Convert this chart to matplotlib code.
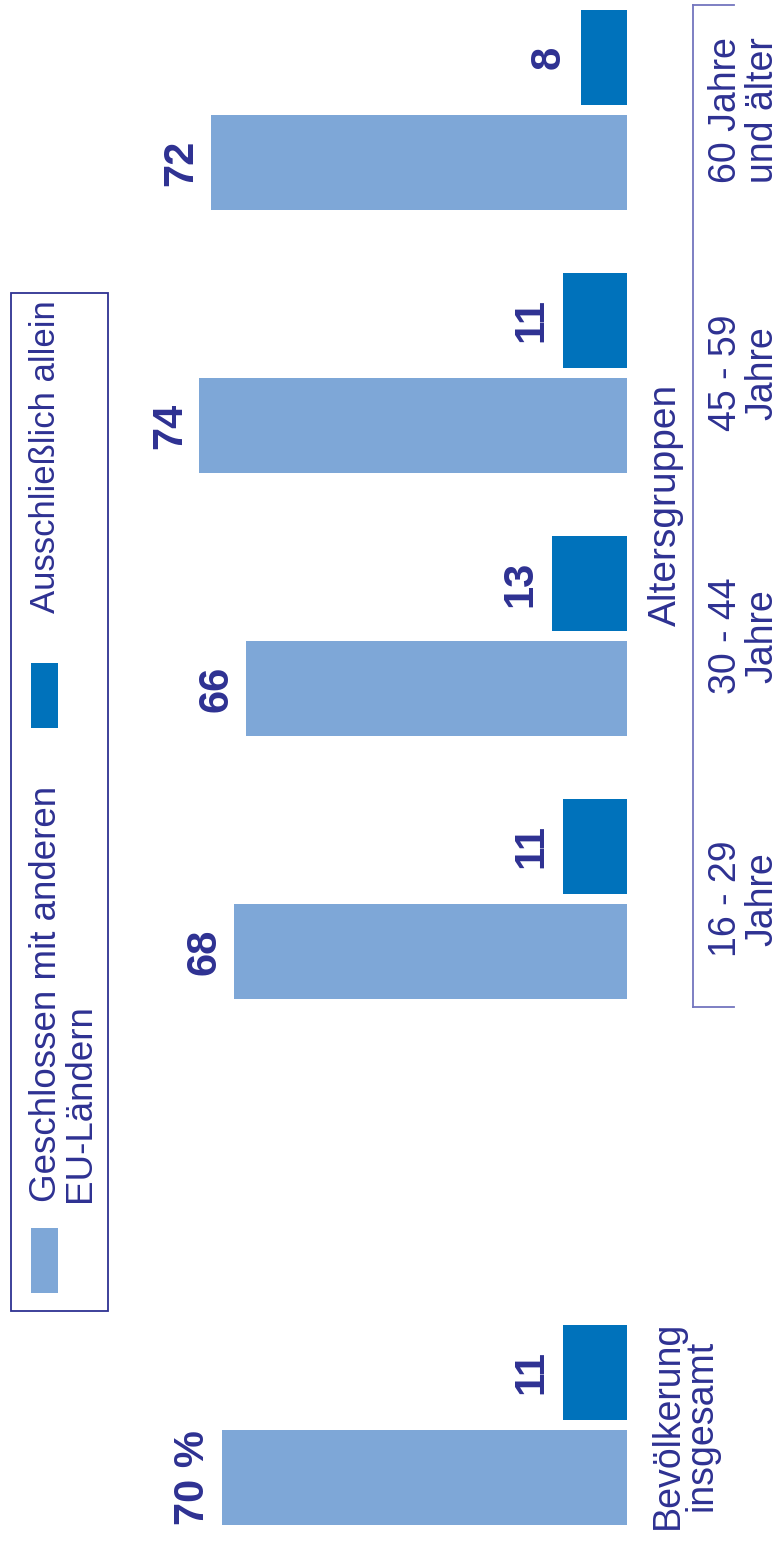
import matplotlib
matplotlib.use("Agg")
import matplotlib.pyplot as plt
from matplotlib.patches import Rectangle
from matplotlib.lines import Line2D
import matplotlib.transforms as mtransforms

# ---- data ----
categories = ["Bevölkerung\ninsgesamt", "16 - 29\nJahre", "30 - 44\nJahre",
              "45 - 59\nJahre", "60 Jahre\nund älter"]
positions = [0, 2, 3, 4, 5]
geschlossen = [70, 68, 66, 74, 72]
allein = [11, 11, 13, 11, 8]
series_names = ["Geschlossen mit anderen\nEU-Ländern", "Ausschließlich allein"]
group_title = "Altersgruppen"

LIGHT = "#7EA7D7"
DARK = "#0072BB"
NAVY = "#2E3192"
BRACKET = "#7375BE"

W, H = 778, 1546
fig = plt.figure(figsize=(W / 100, H / 100), dpi=100)
ax = fig.add_axes([0, 0, 1, 1])
ax.axis("off")

pxu = 5.78      # pixels per percent
pitch = 263.0   # pixels per category unit
ax.set_xlim(627 / pxu, -(W - 627) / pxu)
ax.set_ylim(-121 / pitch, (H - 121) / pitch)

bw = 95 / pitch
off = 52.5 / pitch

REG = ["Liberation Sans", "DejaVu Sans"]
BOLD = ["Liberation Sans", "DejaVu Sans"]

ax.barh([p - off for p in positions], geschlossen, height=bw, color=LIGHT, linewidth=0)
ax.barh([p + off for p in positions], allein, height=bw, color=DARK, linewidth=0)

for i, (p, v) in enumerate(zip(positions, geschlossen)):
    lab = f"{v} %" if i == 0 else f"{v}"
    ax.annotate(lab, xy=(v, p - off), xytext=(-21, 0), textcoords="offset points",
                ha="center", va="center", rotation=90, rotation_mode="anchor",
                fontsize=30, fontweight="bold", color=NAVY, family=BOLD)
for p, v in zip(positions, allein):
    ax.annotate(f"{v}", xy=(v, p + off), xytext=(-23, 0), textcoords="offset points",
                ha="center", va="center", rotation=90, rotation_mode="anchor",
                fontsize=30, fontweight="bold", color=NAVY, family=BOLD)

# category labels
trans = mtransforms.blended_transform_factory(ax.transAxes, ax.transData)
for i, (p, c) in enumerate(zip(positions, categories)):
    xf = (650 if i == 0 else 708) / W
    ax.text(xf, p, c, transform=trans, rotation=90, rotation_mode="anchor",
            ha="center", va="top", multialignment="center",
            linespacing=(0.92 if i == 0 else 1.02),
            fontsize=27, color=NAVY, family=REG)

age_pos = positions[1:]
ax.text(648 / W, sum(age_pos) / len(age_pos), group_title, transform=trans,
        rotation=90, rotation_mode="anchor", ha="center", va="top",
        fontsize=28, color=NAVY, family=REG)

def fx(x):
    return x / W

def fy(y):
    return 1 - y / H

# bracket
for xs, ys in [([693, 693], [5, 1007]), ([693, 734], [5, 5]), ([693, 734], [1007, 1007])]:
    fig.add_artist(Line2D([fx(x) for x in xs], [fy(y) for y in ys],
                          transform=fig.transFigure, color=BRACKET, lw=1.3))

# legend
fig.add_artist(Rectangle((fx(11), fy(1311)), fx(108) - fx(11), fy(293) - fy(1311),
                         transform=fig.transFigure, fill=False, edgecolor=NAVY, lw=1.3))
fig.add_artist(Rectangle((fx(31), fy(1293)), fx(58) - fx(31), fy(1228) - fy(1293),
                         transform=fig.transFigure, color=LIGHT, lw=0))
fig.add_artist(Rectangle((fx(31), fy(728)), fx(58) - fx(31), fy(663) - fy(728),
                         transform=fig.transFigure, color=DARK, lw=0))
fig.text(fx(29), fy(1202), series_names[0], rotation=90, rotation_mode="anchor",
         ha="left", va="top", linespacing=0.95, fontsize=26.5, color=NAVY, family=REG)
fig.text(fx(29), fy(613), series_names[1], rotation=90, rotation_mode="anchor",
         ha="left", va="top", fontsize=25, color=NAVY, family=REG)

fig.savefig("out.png", dpi=100, facecolor="white")
